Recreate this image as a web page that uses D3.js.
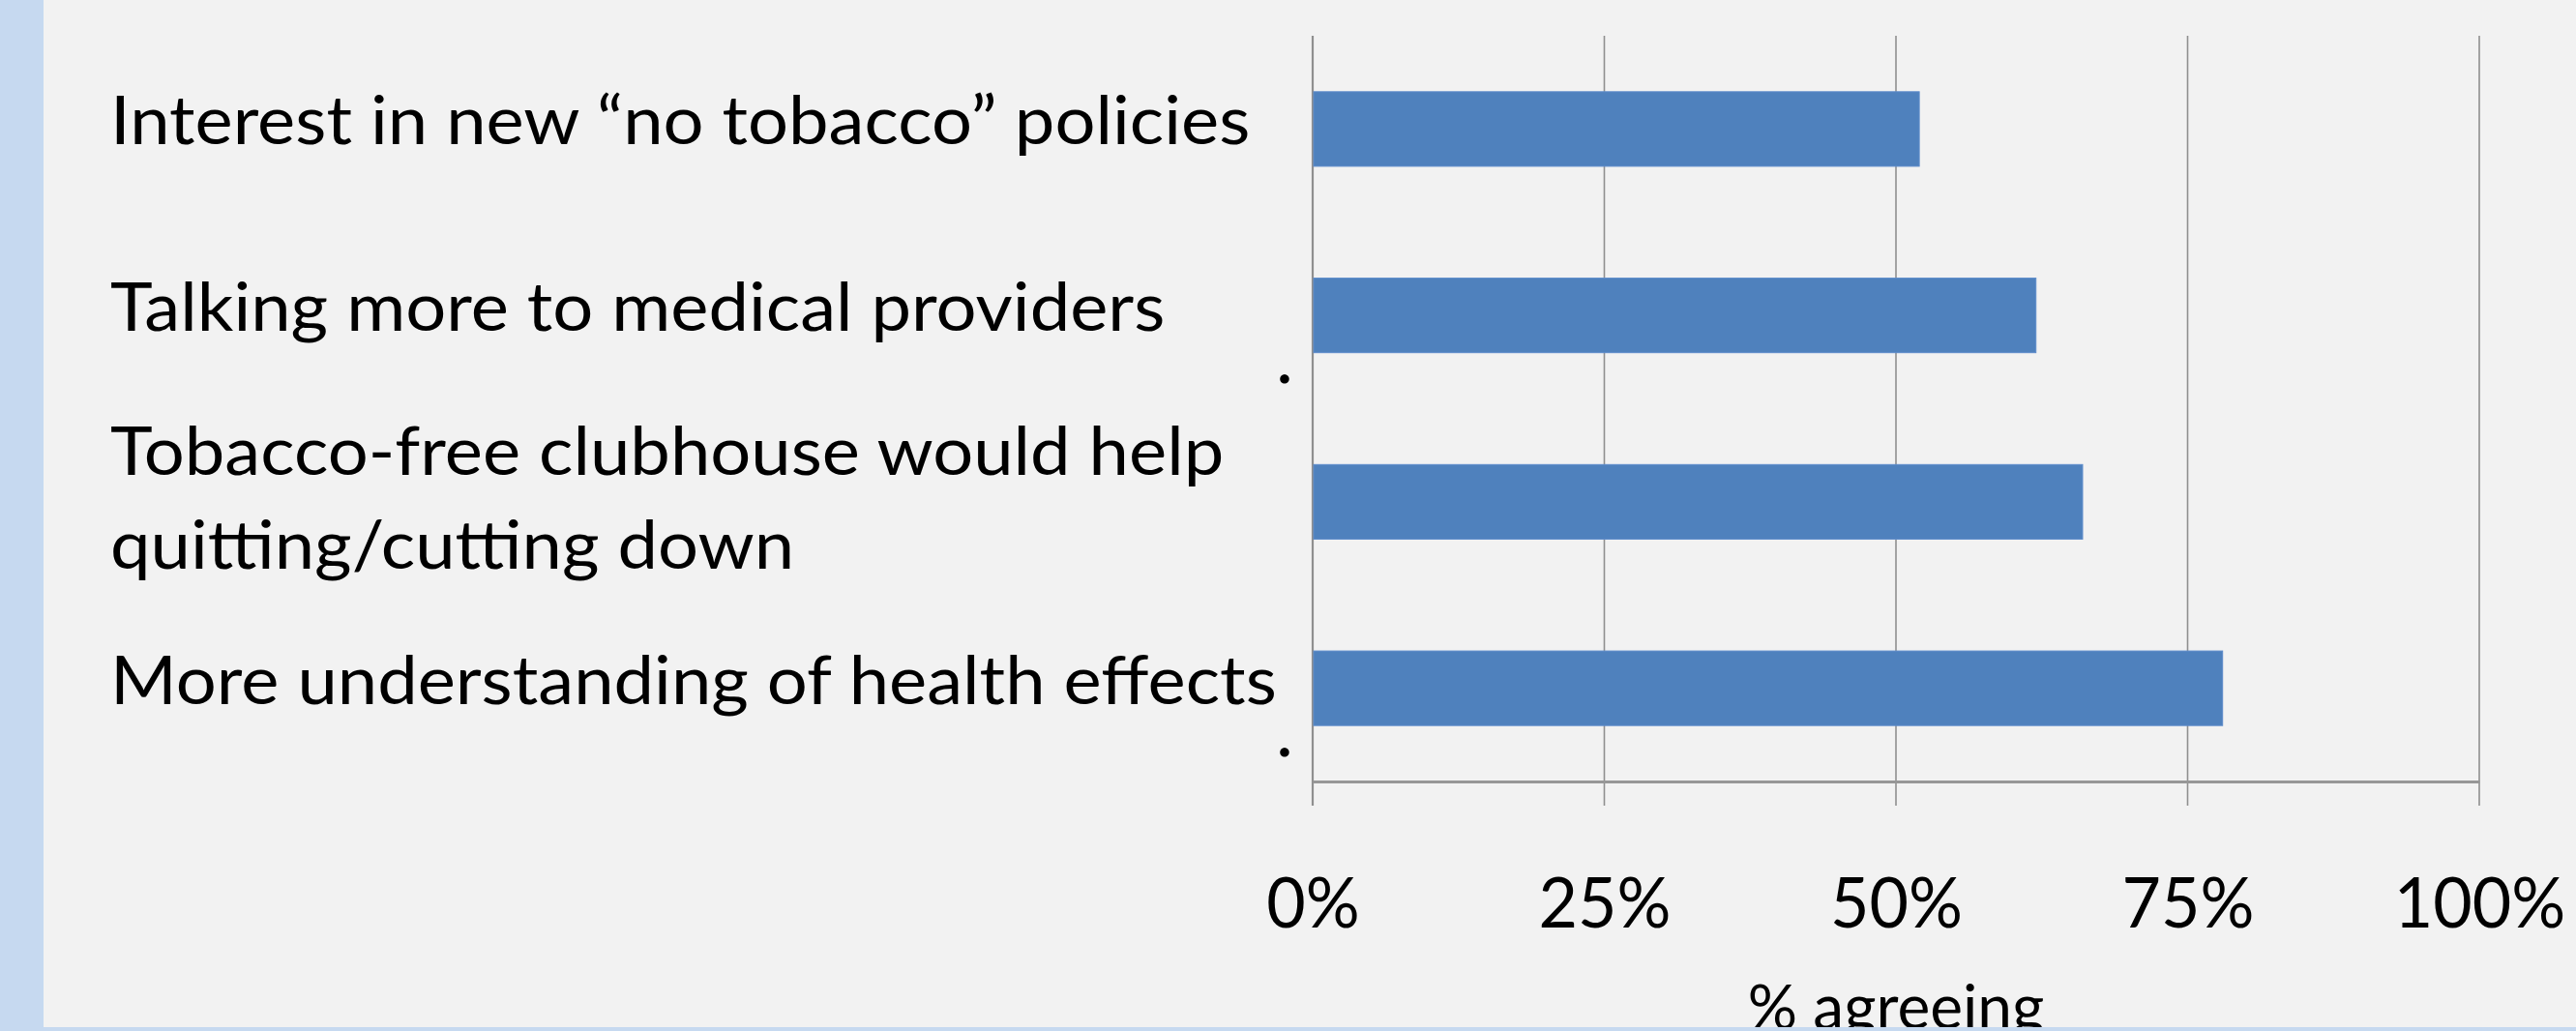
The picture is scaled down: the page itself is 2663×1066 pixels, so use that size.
<!DOCTYPE html>
<html><head><meta charset="utf-8">
<script src="https://cdn.jsdelivr.net/npm/d3@7"></script>
<style>html,body{margin:0;padding:0;background:#f2f2f2;overflow:hidden}text{font-family:Lato,"Open Sans",sans-serif;fill:#000}</style>
</head><body>
<svg id="c" width="2663" height="1066"></svg>
<script>
const categories = ["Interest in new “no tobacco” policies", "Talking more to medical providers", "Tobacco-free clubhouse would help quitting/cutting down", "More understanding of health effects"];
const labelLines = [["Interest in new “no tobacco” policies"], ["Talking more to medical providers"], ["Tobacco-free clubhouse would help", "quitting/cutting down"], ["More understanding of health effects"]];
const values = [52, 62, 66, 78];
const tickValues = [0, 25, 50, 75, 100];
const tickLabels = ["0%", "25%", "50%", "75%", "100%"];
const axisTitle = "% agreeing";
const strayMarks = [{after: "Talking more to medical providers", text: "."}, {after: "More understanding of health effects", text: "."}];

const W = 2663, H = 1066;
const svg = d3.select("#c");
svg.append("rect").attr("width", W).attr("height", H).attr("fill", "#f2f2f2");

const x = d3.scaleLinear().domain([0, 100]).range([1357, 2563]);
const y = d3.scaleBand().domain(categories).range([37, 808]).paddingInner(0.6).paddingOuter(0.3);

// gridlines
svg.append("g").selectAll("line").data(tickValues).join("line")
  .attr("x1", d => x(d)).attr("x2", d => x(d)).attr("y1", 37).attr("y2", 833)
  .attr("stroke", "#8f8f8f").attr("stroke-width", d => d === 0 ? 2.2 : 1.6);

// bars
svg.append("g").selectAll("rect").data(values).join("rect")
  .attr("x", x(0) + 1).attr("y", (d, i) => y(categories[i]))
  .attr("width", d => x(d) - x(0) - 1).attr("height", y.bandwidth())
  .attr("fill", "#4f81bd").attr("stroke", "#5d8ccb").attr("stroke-width", 1);

// x axis
const xAxis = d3.axisBottom(x).tickValues(tickValues).tickFormat((d, i) => tickLabels[i]).tickSize(0).tickSizeOuter(0);
const ax = svg.append("g").attr("transform", "translate(0,808)").call(xAxis);
ax.select(".domain").attr("stroke", "#979797").attr("stroke-width", 3);
ax.selectAll(".tick text").attr("y", 151).attr("dy", 0)
  .style("font-size", "72px").style("font-family", "Lato").attr("fill", "#000");

// category labels
const lab = svg.append("g");
labelLines.forEach((lines, i) => {
  const c = y(categories[i]) + y.bandwidth() / 2;
  const n = lines.length;
  lines.forEach((t, j) => {
    const base = n === 1 ? c + 16 : c - 28 + j * 97;
    lab.append("text").attr("class", "cat").attr("x", 114).attr("y", base)
      .style("font-size", "70px").text(t);
  });
});

// stray marks
strayMarks.forEach(m => {
  svg.append("text").attr("x", 1328).attr("y", y(m.after) + y.bandwidth() / 2 + 70)
    .attr("text-anchor", "middle").style("font-size", "76px").text(m.text);
});

// axis title
svg.append("text").attr("x", x(50)).attr("y", 1064).attr("text-anchor", "middle")
  .style("font-size", "64px").text(axisTitle);

// compress text horizontally to mimic a narrow font
let longest = 0;
lab.selectAll("text").each(function () { longest = Math.max(longest, this.getComputedTextLength()); });
const sx = 1206 / longest;
lab.selectAll("text").attr("transform", `translate(${114 * (1 - sx)},0) scale(${sx},1)`);
let w25 = 0;
ax.selectAll(".tick text").filter((d) => d === 25).each(function () { w25 = this.getComputedTextLength(); });
const tx = 137 / w25;
ax.selectAll(".tick text").attr("transform", `scale(${tx},1)`);

// side strips (drawn on top)
svg.append("rect").attr("x", 0).attr("y", 0).attr("width", 45).attr("height", H).attr("fill", "#c6d9f0");
svg.append("rect").attr("x", 0).attr("y", 1062).attr("width", W).attr("height", 4).attr("fill", "#c6d9f0");
</script>
</body></html>
